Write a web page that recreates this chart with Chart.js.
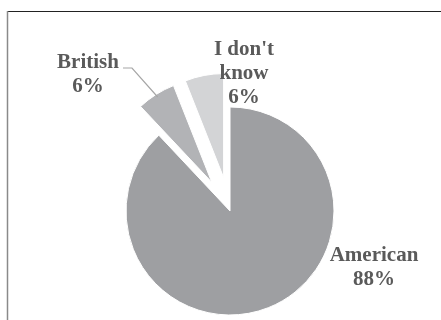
<!DOCTYPE html>
<html>
<head>
<meta charset="utf-8">
<script src="https://cdn.jsdelivr.net/npm/chart.js@4/dist/chart.umd.min.js"></script>
<style>
html,body{margin:0;padding:0;background:#fff;}
#wrap{width:441px;height:320px;position:relative;}
</style>
</head>
<body>
<div id="wrap"><canvas id="pieChart" width="441" height="320"></canvas></div>
<script>
// =============================
// ACCENT PIE
// =============================

const categories = ["American", "British", "I don't know"];
const values = [88, 6, 6];
const pctLabels = ["88%", "6%", "6%"];
const nameLines = [["American"], ["British"], ["I don't", "know"]];
const sliceColors = ["#9e9fa2", "#b2b3b6", "#d3d4d6"];
const explode = [0, 34, 34];

// label placement relative to the pie centre (dx, first baseline dy)
const labelSpots = [
  {dx: 144, dy: 50},
  {dx: -142, dy: -143},
  {dx: 14, dy: -156}
];

// pull slices out by a plain translation (keeps radius unchanged)
const baseArcDraw = Chart.ArcElement.prototype.draw;
Chart.ArcElement.prototype.draw = function(ctx){
  const d = this.explodeBy || 0;
  const mid = (this.startAngle + this.endAngle) / 2;
  ctx.save();
  ctx.translate(Math.cos(mid) * d, Math.sin(mid) * d);
  baseArcDraw.call(this, ctx);
  ctx.restore();
};

const labelPlugin = {
  id: "labelPlugin",
  beforeDraw(chart){
    chart.getDatasetMeta(0).data.forEach((a, i) => { a.explodeBy = explode[i]; });
    const ctx = chart.ctx;
    ctx.save();
    ctx.strokeStyle = "#222";
    ctx.lineWidth = 1;
    ctx.beginPath();
    ctx.moveTo(8, 11.5);
    ctx.lineTo(441, 11.5);
    ctx.stroke();
    ctx.strokeStyle = "#8a8a8a";
    ctx.lineWidth = 1.5;
    ctx.beginPath();
    ctx.moveTo(7.5, 11);
    ctx.lineTo(7.5, 320);
    ctx.stroke();
    ctx.restore();
  },
  afterDraw(chart){
    const ctx = chart.ctx;
    const arcs = chart.getDatasetMeta(0).data;
    const cx = arcs[0].x, cy = arcs[0].y;
    ctx.save();
    ctx.font = "bold 21px 'Liberation Serif', 'Times New Roman', serif";
    ctx.fillStyle = "#5a5a5a";
    ctx.textAlign = "center";
    ctx.textBaseline = "alphabetic";
    categories.forEach((c, i) => {
      const spot = labelSpots[i];
      const lines = nameLines[i].concat([pctLabels[i]]);
      lines.forEach((t, k) => {
        ctx.fillText(t, cx + spot.dx, cy + spot.dy + k * 24);
      });
    });

    // leader line for British
    const b = arcs[1];
    const mid = (b.startAngle + b.endAngle) / 2;
    const r = b.outerRadius + explode[1] - 3;
    const ex = b.x + Math.cos(mid) * r;
    const ey = b.y + Math.sin(mid) * r;
    ctx.strokeStyle = "#a6a6a6";
    ctx.lineWidth = 1.2;
    ctx.beginPath();
    ctx.moveTo(cx - 107, cy - 143);
    ctx.lineTo(cx - 98, cy - 143);
    ctx.lineTo(ex, ey);
    ctx.stroke();
    ctx.restore();
  }
};

const canvas = document.getElementById("pieChart");
const ctx = canvas.getContext("2d");

new Chart(ctx, {
  type: "pie",
  data: {
    labels: categories,
    datasets: [{
      data: values,
      backgroundColor: sliceColors,
      borderColor: "#fff",
      borderWidth: 1
    }]
  },
  options: {
    responsive: false,
    animation: false,
    radius: 104,
    layout: {
      padding: {left: 19, right: 0, top: 102, bottom: 0}
    },
    plugins: {
      legend: {display: false},
      tooltip: {enabled: false}
    }
  },
  plugins: [labelPlugin]
});
</script>
</body>
</html>
